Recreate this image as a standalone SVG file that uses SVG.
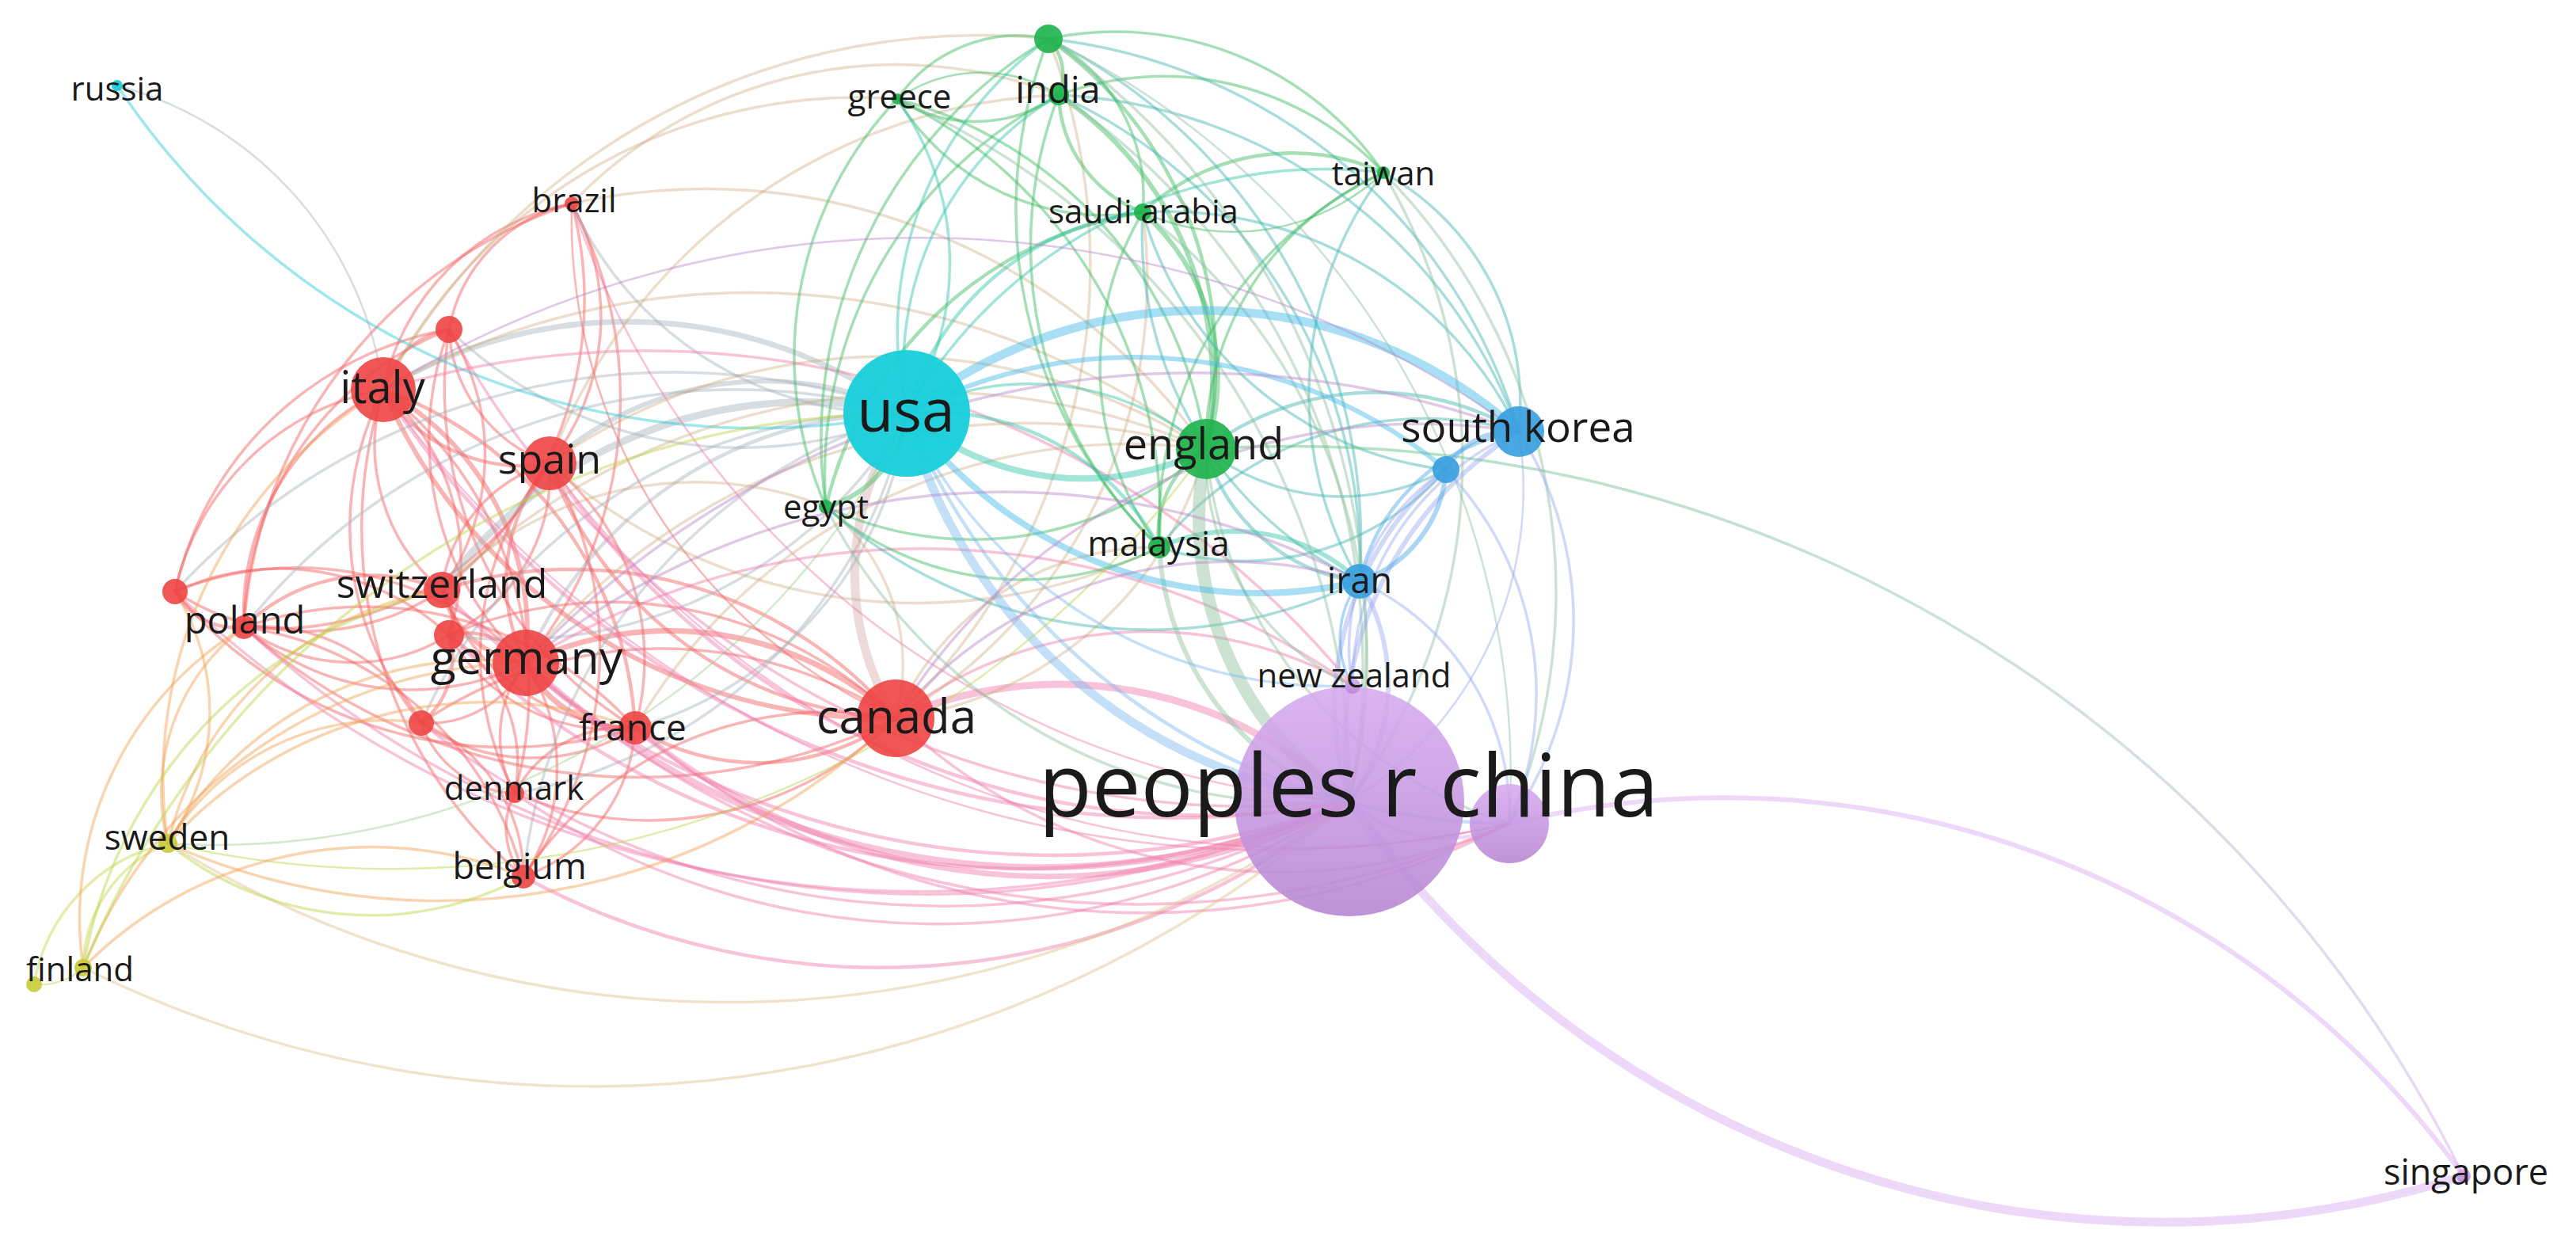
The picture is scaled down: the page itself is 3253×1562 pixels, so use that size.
<svg xmlns="http://www.w3.org/2000/svg" width="3253" height="1562" viewBox="0 0 3253 1562">
<style>
#edges path{fill:none;stroke-linecap:round;stroke-opacity:0.45;stroke-width:3.5}
.r{stroke:#f25a5a}.g{stroke:#38b85a}.c{stroke:#2cc8d8}.b{stroke:#4aa3e6}.p{stroke:#d9a8f4}.y{stroke:#cdd24a}
.rp{stroke:#f07aa8}.rg{stroke:#c9a070}.rc{stroke:#a8b4bc}.gc{stroke:#2fc4a8}.gb{stroke:#3fb4b0}.gp{stroke:#8ec0a0}
.cp{stroke:#7cb8f0}.cb{stroke:#40b8e8}.bp{stroke:#9aa8f0}.yr{stroke:#f0a050}.yg{stroke:#b8d448}.yp{stroke:#dcc48c}
.yc{stroke:#a0d090}.br{stroke:#b888c8}.cu{stroke:#d8b0b0}
#edges .rg{stroke-opacity:0.35}
#edges .w2{stroke-width:2.5}#edges .w3{stroke-width:3.5}#edges .w4{stroke-width:4.5}#edges .w5{stroke-width:6}
#edges .w6{stroke-width:7}#edges .w7{stroke-width:8}#edges .w8{stroke-width:9}#edges .w10{stroke-width:11}#edges .w14{stroke-width:16}
.nr{fill:#ee4444;fill-opacity:0.9}.ng{fill:#1fb34d;fill-opacity:0.92}.nc{fill:#17cfdb;fill-opacity:0.95}
.nb{fill:#3a9fe0;fill-opacity:0.92}.np{fill:url(#pg);fill-opacity:0.88}.ny{fill:#c9cc3c;fill-opacity:0.92}
text{font-family:"Open Sans","DejaVu Sans",sans-serif;fill:#1a1a1a;text-anchor:middle}
</style>
<defs>
<linearGradient id="pg" x1="0" y1="0" x2="0" y2="1">
<stop offset="0" stop-color="#d8aaf0"/><stop offset="1" stop-color="#b585d2"/>
</linearGradient>
<linearGradient id="es" gradientUnits="userSpaceOnUse" x1="1523" y1="567" x2="3111" y2="1485">
<stop offset="0" stop-color="#4cc070"/><stop offset="0.6" stop-color="#a0b8c0"/><stop offset="1" stop-color="#d0a8ee"/>
</linearGradient>
</defs>
<rect width="3253" height="1562" fill="#ffffff"/>
<g id="edges">
<path class="r w4" d="M484 492 A207 207 0 0 0 694 585"/>
<path class="r w5" d="M484 492 A350 350 0 0 1 664 837"/>
<path class="r" d="M484 492 A238 238 0 0 0 558 745"/>
<path class="r w4" d="M484 492 A479 479 0 0 1 802 919"/>
<path class="r" d="M484 492 A102 102 0 0 1 567 416"/>
<path class="r" d="M484 492 A302 302 0 0 1 722 257"/>
<path class="r" d="M484 492 A313 313 0 0 0 308 792"/>
<path class="r" d="M484 492 A330 330 0 0 0 221 747"/>
<path class="r" d="M484 492 A289 289 0 0 1 567 802"/>
<path class="r" d="M484 492 A382 382 0 0 0 532 913"/>
<path class="r" d="M484 492 A482 482 0 0 1 650 1002"/>
<path class="r" d="M484 492 A576 576 0 0 0 661 1107"/>
<path class="r w5" d="M484 492 A692 692 0 0 0 1131 907"/>
<path class="r w4" d="M694 585 A229 229 0 0 0 664 837"/>
<path class="r" d="M694 585 A316 316 0 0 1 802 919"/>
<path class="r" d="M694 585 A189 189 0 0 0 558 745"/>
<path class="r w4" d="M694 585 A489 489 0 0 0 1131 907"/>
<path class="r" d="M694 585 A296 296 0 0 0 722 257"/>
<path class="r" d="M694 585 A190 190 0 0 1 567 416"/>
<path class="r" d="M694 585 A394 394 0 0 1 308 792"/>
<path class="r" d="M694 585 A226 226 0 0 1 567 802"/>
<path class="r" d="M694 585 A471 471 0 0 1 661 1107"/>
<path class="r" d="M694 585 A377 377 0 0 0 650 1002"/>
<path class="r w5" d="M664 837 A126 126 0 0 1 558 745"/>
<path class="r w4" d="M664 837 A93 93 0 0 0 567 802"/>
<path class="r w6" d="M664 837 A144 144 0 0 0 802 919"/>
<path class="r w6" d="M664 837 A425 425 0 0 1 1131 907"/>
<path class="r" d="M664 837 A323 323 0 0 1 308 792"/>
<path class="r" d="M664 837 A407 407 0 0 0 221 747"/>
<path class="r" d="M664 837 A137 137 0 0 1 532 913"/>
<path class="r" d="M664 837 A149 149 0 0 0 650 1002"/>
<path class="r" d="M664 837 A243 243 0 0 1 661 1107"/>
<path class="r" d="M664 837 A525 525 0 0 0 722 257"/>
<path class="r" d="M664 837 A389 389 0 0 1 567 416"/>
<path class="r w4" d="M558 745 A229 229 0 0 0 308 792"/>
<path class="r" d="M558 745 A303 303 0 0 1 221 747"/>
<path class="r w5" d="M558 745 A52 52 0 0 1 567 802"/>
<path class="r" d="M558 745 A270 270 0 0 0 802 919"/>
<path class="r w4" d="M558 745 A536 536 0 0 1 1131 907"/>
<path class="r" d="M558 745 A464 464 0 0 0 722 257"/>
<path class="r" d="M558 745 A296 296 0 0 0 567 416"/>
<path class="r w4" d="M1131 907 A296 296 0 0 1 802 919"/>
<path class="r" d="M1131 907 A539 539 0 0 0 532 913"/>
<path class="r" d="M1131 907 A441 441 0 0 1 650 1002"/>
<path class="r" d="M1131 907 A460 460 0 0 0 661 1107"/>
<path class="r" d="M1131 907 A748 748 0 0 1 308 792"/>
<path class="r" d="M1131 907 A517 517 0 0 0 567 802"/>
<path class="r" d="M802 919 A212 212 0 0 1 661 1107"/>
<path class="r" d="M802 919 A156 156 0 0 0 650 1002"/>
<path class="r" d="M802 919 A243 243 0 0 1 532 913"/>
<path class="r" d="M802 919 A459 459 0 0 0 308 792"/>
<path class="r" d="M802 919 A237 237 0 0 1 567 802"/>
<path class="r" d="M802 919 A545 545 0 0 1 221 747"/>
<path class="r" d="M802 919 A500 500 0 0 1 567 416"/>
<path class="r" d="M661 1107 A95 95 0 0 1 650 1002"/>
<path class="r" d="M661 1107 A210 210 0 0 0 532 913"/>
<path class="r" d="M661 1107 A426 426 0 0 0 308 792"/>
<path class="r" d="M650 1002 A133 133 0 0 1 532 913"/>
<path class="r" d="M650 1002 A195 195 0 0 0 567 802"/>
<path class="r w4" d="M532 913 A104 104 0 0 0 567 802"/>
<path class="r" d="M532 913 A230 230 0 0 0 308 792"/>
<path class="r" d="M567 802 A233 233 0 0 1 308 792"/>
<path class="r" d="M567 802 A315 315 0 0 0 221 747"/>
<path class="r w4" d="M308 792 A88 88 0 0 1 221 747"/>
<path class="r" d="M308 792 A608 608 0 0 1 722 257"/>
<path class="r" d="M308 792 A410 410 0 0 1 567 416"/>
<path class="r" d="M221 747 A431 431 0 0 1 567 416"/>
<path class="r" d="M567 416 A200 200 0 0 1 722 257"/>
<path class="r w2" d="M722 257 A691 691 0 0 0 1131 907"/>
<path class="rc w6" d="M484 492 A596 596 0 0 1 1145 522"/>
<path class="rc w5" d="M694 585 A410 410 0 0 1 1145 522"/>
<path class="rc w4" d="M664 837 A518 518 0 0 1 1145 522"/>
<path class="rc w8" d="M558 745 A565 565 0 0 1 1145 522"/>
<path class="cu w10" d="M1131 907 A347 347 0 0 1 1145 522"/>
<path class="rc" d="M802 919 A473 473 0 0 0 1145 522"/>
<path class="rc" d="M661 1107 A683 683 0 0 1 1145 522"/>
<path class="rc" d="M650 1002 A621 621 0 0 0 1145 522"/>
<path class="rc" d="M532 913 A654 654 0 0 1 1145 522"/>
<path class="rc" d="M567 802 A578 578 0 0 0 1145 522"/>
<path class="rc" d="M308 792 A792 792 0 0 1 1145 522"/>
<path class="rc" d="M221 747 A856 856 0 0 1 1145 522"/>
<path class="rc" d="M567 416 A529 529 0 0 0 1145 522"/>
<path class="rc" d="M722 257 A449 449 0 0 0 1145 522"/>
<path class="c w3" d="M148 108 A971 971 0 0 0 1145 522"/>
<path class="rc w2" d="M148 108 A459 459 0 0 1 484 492"/>
<path class="rp w4" d="M484 492 A1193 1193 0 0 0 1704 1012"/>
<path class="rp w4" d="M694 585 A987 987 0 0 0 1704 1012"/>
<path class="rp w7" d="M664 837 A950 950 0 0 0 1704 1012"/>
<path class="rp w4" d="M558 745 A1059 1059 0 0 0 1704 1012"/>
<path class="rp w8" d="M1131 907 A525 525 0 0 1 1704 1012"/>
<path class="rp w6" d="M802 919 A816 816 0 0 0 1704 1012"/>
<path class="rp w4" d="M661 1107 A942 942 0 0 0 1704 1012"/>
<path class="rp" d="M650 1002 A949 949 0 0 0 1704 1012"/>
<path class="rp" d="M532 913 A1058 1058 0 0 0 1704 1012"/>
<path class="rp w4" d="M567 802 A1040 1040 0 0 0 1704 1012"/>
<path class="rp" d="M308 792 A1272 1272 0 0 0 1704 1012"/>
<path class="rp" d="M221 747 A1355 1355 0 0 0 1704 1012"/>
<path class="rp" d="M567 416 A1156 1156 0 0 0 1704 1012"/>
<path class="rp w2" d="M722 257 A1115 1115 0 0 0 1704 1012"/>
<path class="rp" d="M1131 907 A707 707 0 0 0 1906 1040"/>
<path class="rp" d="M664 837 A1132 1132 0 0 0 1906 1040"/>
<path class="rp w2" d="M484 492 A1372 1372 0 0 0 1906 1040"/>
<path class="rp" d="M802 919 A1000 1000 0 0 0 1906 1040"/>
<path class="rp w2" d="M694 585 A1165 1165 0 0 0 1906 1040"/>
<path class="rp" d="M1131 907 A520 520 0 0 1 1708 866"/>
<path class="rp" d="M664 837 A940 940 0 0 1 1708 866"/>
<path class="rp" d="M484 492 A1152 1152 0 0 1 1708 866"/>
<path class="rg" d="M484 492 A938 938 0 0 1 1523 567"/>
<path class="rg" d="M694 585 A746 746 0 0 1 1523 567"/>
<path class="rg" d="M664 837 A810 810 0 0 1 1523 567"/>
<path class="rg" d="M558 745 A883 883 0 0 1 1523 567"/>
<path class="rg" d="M1131 907 A467 467 0 0 0 1523 567"/>
<path class="rg" d="M802 919 A722 722 0 0 1 1523 567"/>
<path class="rg" d="M558 745 A446 446 0 0 1 1043 640"/>
<path class="rg" d="M1131 907 A253 253 0 0 0 1043 640"/>
<path class="rg" d="M1131 907 A357 357 0 0 1 1464 691"/>
<path class="rg" d="M1131 907 A640 640 0 0 0 1443 268"/>
<path class="rg" d="M694 585 A714 714 0 0 1 1337 120"/>
<path class="rg" d="M694 585 A699 699 0 0 0 1464 691"/>
<path class="rg" d="M722 257 A567 567 0 0 1 1337 120"/>
<path class="rg" d="M722 257 A773 773 0 0 1 1523 567"/>
<path class="rg" d="M1324 49 A855 855 0 0 0 484 492"/>
<path class="rg" d="M1324 49 A792 792 0 0 1 1131 907"/>
<path class="rg" d="M1133 125 A670 670 0 0 0 484 492"/>
<path class="g w4" d="M1324 49 A65 65 0 0 1 1337 120"/>
<path class="g" d="M1324 49 A185 185 0 0 0 1133 125"/>
<path class="g" d="M1324 49 A224 224 0 0 1 1443 268"/>
<path class="g w4" d="M1324 49 A500 500 0 0 1 1523 567"/>
<path class="g" d="M1324 49 A410 410 0 0 1 1747 218"/>
<path class="g" d="M1324 49 A591 591 0 0 0 1464 691"/>
<path class="g" d="M1324 49 A589 589 0 0 0 1043 640"/>
<path class="g" d="M1337 120 A184 184 0 0 1 1133 125"/>
<path class="g w2" d="M1337 120 A184 184 0 0 0 1133 125"/>
<path class="g w4" d="M1337 120 A164 164 0 0 0 1443 268"/>
<path class="g w5" d="M1337 120 A436 436 0 0 1 1523 567"/>
<path class="g" d="M1337 120 A379 379 0 0 1 1747 218"/>
<path class="g" d="M1337 120 A527 527 0 0 0 1464 691"/>
<path class="g" d="M1337 120 A537 537 0 0 0 1043 640"/>
<path class="g" d="M1133 125 A307 307 0 0 0 1443 268"/>
<path class="g" d="M1133 125 A530 530 0 0 1 1523 567"/>
<path class="g" d="M1133 125 A471 471 0 0 0 1043 640"/>
<path class="g" d="M1133 125 A590 590 0 0 1 1464 691"/>
<path class="g w5" d="M1443 268 A279 279 0 0 1 1523 567"/>
<path class="g" d="M1443 268 A382 382 0 0 0 1464 691"/>
<path class="g w4" d="M1443 268 A491 491 0 0 0 1043 640"/>
<path class="g w4" d="M1443 268 A277 277 0 0 1 1747 218"/>
<path class="g w2" d="M1443 268 A277 277 0 0 0 1747 218"/>
<path class="g" d="M1747 218 A374 374 0 0 0 1523 567"/>
<path class="g" d="M1747 218 A496 496 0 0 0 1464 691"/>
<path class="g w4" d="M1523 567 A123 123 0 0 0 1464 691"/>
<path class="g" d="M1523 567 A437 437 0 0 1 1043 640"/>
<path class="g" d="M1043 640 A382 382 0 0 0 1464 691"/>
<path class="gc" d="M1324 49 A455 455 0 0 0 1145 522"/>
<path class="gc" d="M1337 120 A400 400 0 0 0 1145 522"/>
<path class="gc" d="M1133 125 A357 357 0 0 1 1145 522"/>
<path class="gc w4" d="M1443 268 A353 353 0 0 0 1145 522"/>
<path class="gc" d="M1747 218 A607 607 0 0 0 1145 522"/>
<path class="gc w7" d="M1523 567 A342 342 0 0 1 1145 522"/>
<path class="g w5" d="M1043 640 A140 140 0 0 0 1145 522"/>
<path class="gc w4" d="M1464 691 A325 325 0 0 0 1145 522"/>
<path class="gc" d="M1523 567 A342 342 0 0 0 1145 522"/>
<path class="gb" d="M1324 49 A697 697 0 0 1 1918 545"/>
<path class="gb" d="M1324 49 A711 711 0 0 1 1717 734"/>
<path class="gb" d="M1337 120 A648 648 0 0 1 1918 545"/>
<path class="gb" d="M1337 120 A650 650 0 0 1 1717 734"/>
<path class="gb" d="M1443 268 A495 495 0 0 1 1918 545"/>
<path class="gb" d="M1443 268 A487 487 0 0 0 1717 734"/>
<path class="gb" d="M1443 268 A452 452 0 0 0 1826 593"/>
<path class="gb" d="M1747 218 A332 332 0 0 1 1918 545"/>
<path class="gb" d="M1747 218 A465 465 0 0 0 1717 734"/>
<path class="gb w4" d="M1523 567 A356 356 0 0 1 1918 545"/>
<path class="gb" d="M1523 567 A274 274 0 0 0 1826 593"/>
<path class="gb w4" d="M1523 567 A230 230 0 0 0 1717 734"/>
<path class="gb" d="M1043 640 A612 612 0 0 0 1717 734"/>
<path class="gc w5" d="M1464 691 A231 231 0 0 1 1717 734"/>
<path class="gb" d="M1464 691 A429 429 0 0 1 1918 545"/>
<path class="gb" d="M1464 691 A338 338 0 0 0 1826 593"/>
<path class="gp w14" d="M1523 567 A432 432 0 0 0 1704 1012"/>
<path class="gp" d="M1324 49 A931 931 0 0 1 1704 1012"/>
<path class="gp" d="M1337 120 A868 868 0 0 1 1704 1012"/>
<path class="gp" d="M1133 125 A950 950 0 0 1 1704 1012"/>
<path class="gp" d="M1443 268 A709 709 0 0 1 1704 1012"/>
<path class="gp" d="M1747 218 A716 716 0 0 1 1704 1012"/>
<path class="gp" d="M1043 640 A682 682 0 0 0 1704 1012"/>
<path class="gp w5" d="M1464 691 A361 361 0 0 0 1704 1012"/>
<path class="gp" d="M1747 218 A753 753 0 0 1 1906 1040"/>
<path class="gp" d="M1523 567 A548 548 0 0 0 1906 1040"/>
<path class="gp" d="M1523 567 A317 317 0 0 0 1708 866"/>
<path class="gp w2" d="M1324 49 A1034 1034 0 0 1 1906 1040"/>
<path class="w3" stroke="url(#es)" d="M1523 567 A1650 1650 0 0 1 3111 1485"/>
<path class="cp w10" d="M1145 522 A669 669 0 0 0 1704 1012"/>
<path class="cb w10" d="M1145 522 A600 600 0 0 1 1918 545"/>
<path class="cb w7" d="M1145 522 A549 549 0 0 0 1717 734"/>
<path class="cb w5" d="M1145 522 A617 617 0 0 1 1826 593"/>
<path class="cp" d="M1145 522 A594 594 0 0 0 1708 866"/>
<path class="cp w4" d="M1145 522 A829 829 0 0 0 1906 1040"/>
<path class="b w5" d="M1918 545 A94 94 0 0 0 1826 593"/>
<path class="b w4" d="M1918 545 A248 248 0 0 0 1717 734"/>
<path class="bp w5" d="M1918 545 A463 463 0 0 0 1704 1012"/>
<path class="bp" d="M1918 545 A446 446 0 0 1 1906 1040"/>
<path class="bp" d="M1918 545 A346 346 0 0 0 1708 866"/>
<path class="b w5" d="M1826 593 A160 160 0 0 1 1717 734"/>
<path class="bp w5" d="M1826 593 A392 392 0 0 0 1704 1012"/>
<path class="bp" d="M1826 593 A409 409 0 0 1 1906 1040"/>
<path class="bp" d="M1826 593 A267 267 0 0 0 1708 866"/>
<path class="bp w5" d="M1717 734 A250 250 0 0 1 1704 1012"/>
<path class="b" d="M1717 734 A119 119 0 0 0 1708 866"/>
<path class="bp" d="M1717 734 A324 324 0 0 1 1906 1040"/>
<path class="bp w2" d="M1918 545 A463 463 0 0 1 1704 1012"/>
<path class="y w3" d="M212 1065 A171 171 0 0 0 105 1222"/>
<path class="y w3" d="M212 1065 A220 220 0 0 0 43 1243"/>
<path class="y w2" d="M105 1222 A80 80 0 0 1 43 1243"/>
<path class="yp" d="M212 1065 A1344 1344 0 0 0 1704 1012"/>
<path class="yp" d="M105 1222 A1452 1452 0 0 0 1704 1012"/>
<path class="yc w2" d="M212 1065 A971 971 0 0 0 1145 522"/>
<path class="yg w2" d="M212 1065 A1262 1262 0 0 0 1523 567"/>
<path class="yr" d="M212 1065 A840 840 0 0 0 1131 907"/>
<path class="yr" d="M212 1065 A547 547 0 0 1 802 919"/>
<path class="yg" d="M212 1065 A406 406 0 0 0 661 1107"/>
<path class="yr" d="M212 1065 A260 260 0 0 1 308 792"/>
<path class="yr" d="M212 1065 A455 455 0 0 1 664 837"/>
<path class="yr" d="M212 1065 A424 424 0 0 1 558 745"/>
<path class="yr" d="M212 1065 A286 286 0 0 0 221 747"/>
<path class="yr" d="M212 1065 A319 319 0 0 1 532 913"/>
<path class="yr" d="M212 1065 A570 570 0 0 1 484 492"/>
<path class="yr" d="M105 1222 A611 611 0 0 1 664 837"/>
<path class="yg" d="M105 1222 A592 592 0 0 1 558 745"/>
<path class="yr" d="M105 1222 A511 511 0 0 1 661 1107"/>
<path class="yg" d="M105 1222 A1129 1129 0 0 1 1145 522"/>
<path class="yr" d="M105 1222 A430 430 0 0 1 308 792"/>
<path class="p w4" d="M1704 1012 A184 184 0 0 0 1906 1040"/>
<path class="p w10" d="M1704 1012 A1260 1260 0 0 0 3111 1485"/>
<path class="p w5" d="M1906 1040 A1150 1150 0 0 1 3111 1485"/>
<path class="br" d="M1131 907 A550 550 0 0 1 1717 734"/>
<path class="br" d="M1131 907 A779 779 0 0 1 1918 545"/>
<path class="br" d="M664 837 A952 952 0 0 1 1717 734"/>
<path class="br" d="M664 837 A1160 1160 0 0 1 1918 545"/>
<path class="br w2" d="M484 492 A1292 1292 0 0 1 1918 545"/>
</g>
<g id="n-dot"><circle class="ny" cx="43" cy="1243" r="10"/></g>
<g id="n-finland"><circle class="ny" cx="105" cy="1222" r="11"/><text x="101" y="1239" font-size="42">finland</text></g>
<g id="n-sweden"><circle class="ny" cx="212" cy="1065" r="12"/><text x="211" y="1073" font-size="44">sweden</text></g>
<g id="n-red-c"><circle class="nr" cx="221" cy="747" r="16"/></g>
<g id="n-poland"><circle class="nr" cx="308" cy="792" r="15"/><text x="309" y="800" font-size="47">poland</text></g>
<g id="n-red-d"><circle class="nr" cx="567" cy="802" r="19"/></g>
<g id="n-switzerland"><circle class="nr" cx="558" cy="745" r="23"/><text x="558" y="755" font-size="50">switzerland</text></g>
<g id="n-red-e"><circle class="nr" cx="532" cy="913" r="16"/></g>
<g id="n-germany"><circle class="nr" cx="664" cy="837" r="42"/><text x="665" y="851" font-size="59">germany</text></g>
<g id="n-france"><circle class="nr" cx="802" cy="919" r="21"/><text x="799" y="935" font-size="46">france</text></g>
<g id="n-denmark"><circle class="nr" cx="650" cy="1002" r="12"/><text x="649" y="1010" font-size="42">denmark</text></g>
<g id="n-belgium"><circle class="nr" cx="661" cy="1107" r="15"/><text x="656" y="1110" font-size="45">belgium</text></g>
<g id="n-red-a"><circle class="nr" cx="567" cy="416" r="17"/></g>
<g id="n-brazil"><circle class="nr" cx="722" cy="257" r="9"/><text x="725" y="268" font-size="42">brazil</text></g>
<g id="n-italy"><circle class="nr" cx="484" cy="492" r="41"/><text x="483" y="509" font-size="56">italy</text></g>
<g id="n-spain"><circle class="nr" cx="694" cy="585" r="34"/><text x="694" y="598" font-size="52">spain</text></g>
<g id="n-russia"><circle class="nc" cx="148" cy="108" r="7"/><text x="148" y="127" font-size="42">russia</text></g>
<g id="n-egypt"><circle class="ng" cx="1043" cy="640" r="9"/><text x="1043" y="655" font-size="42">egypt</text></g>
<g id="n-greece"><circle class="ng" cx="1133" cy="125" r="7"/><text x="1136" y="137" font-size="42">greece</text></g>
<g id="n-green-top"><circle class="ng" cx="1324" cy="49" r="18"/></g>
<g id="n-india"><circle class="ng" cx="1337" cy="120" r="13"/><text x="1336" y="130" font-size="47">india</text></g>
<g id="n-saudi-arabia"><circle class="ng" cx="1443" cy="268" r="11"/><text x="1444" y="282" font-size="42">saudi arabia</text></g>
<g id="n-taiwan"><circle class="ng" cx="1747" cy="218" r="8"/><text x="1747" y="234" font-size="42">taiwan</text></g>
<g id="n-blue-b"><circle class="nb" cx="1826" cy="593" r="17"/></g>
<g id="n-south-korea"><circle class="nb" cx="1918" cy="545" r="32"/><text x="1917" y="558" font-size="53">south korea</text></g>
<g id="n-iran"><circle class="nb" cx="1717" cy="734" r="22"/><text x="1717" y="749" font-size="45">iran</text></g>
<g id="n-malaysia"><circle class="ng" cx="1464" cy="691" r="14"/><text x="1463" y="702" font-size="44">malaysia</text></g>
<g id="n-england"><circle class="ng" cx="1523" cy="567" r="38"/><text x="1520" y="580" font-size="54">england</text></g>
<g id="n-canada"><circle class="nr" cx="1131" cy="907" r="49"/><text x="1132" y="926" font-size="60">canada</text></g>
<g id="n-usa"><circle class="nc" cx="1145" cy="522" r="80"/><text x="1144" y="545" font-size="75">usa</text></g>
<g id="n-purple-b"><circle class="np" cx="1906" cy="1040" r="50"/></g>
<g id="n-china"><circle class="np" cx="1704" cy="1012" r="145"/><text x="1703" y="1031" font-size="110">peoples r china</text></g>
<g id="n-new-zealand"><circle class="np" cx="1708" cy="866" r="10"/><text x="1710" y="868" font-size="42">new zealand</text></g>
<g id="n-singapore"><circle class="np" cx="3111" cy="1485" r="9"/><text x="3114" y="1496" font-size="45">singapore</text></g>
</svg>
